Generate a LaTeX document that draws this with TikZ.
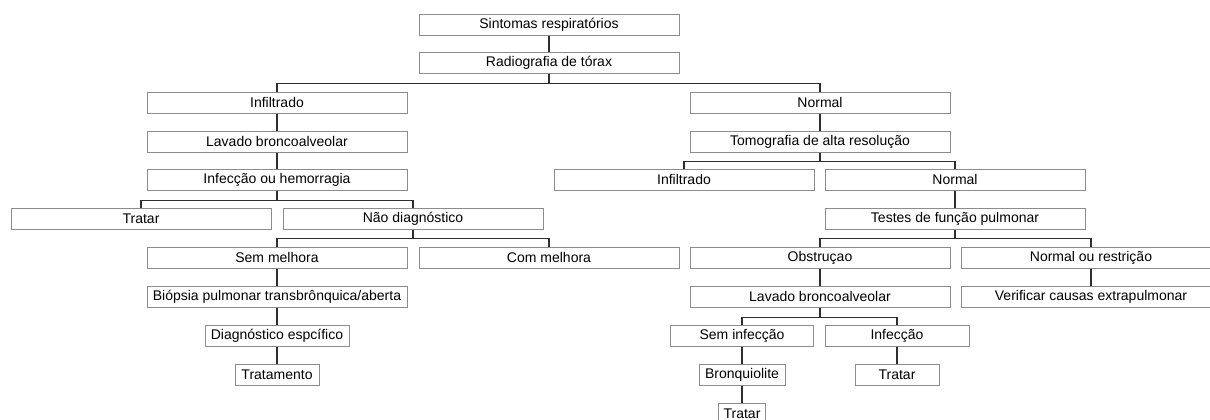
\documentclass[tikz,border=0pt]{standalone}
\usepackage{fontspec}
\setmainfont{Liberation Sans}
\usepackage{tikz}
\usepackage{xcolor}
\definecolor{CinzaBorda}{HTML}{8C8C8C}
\definecolor{CinzaLinha}{HTML}{2E2E2E}
\tikzset{
Caixa/.style={
 draw=CinzaBorda, 
 line width=0.75pt, 
 minimum width=#1*0.75pt, 
 minimum height=15.75pt, 
 inner sep=0pt, 
 font=\fontsize{10.5}{12}\selectfont
 },
Caixa/.default={260},
Ramo/.style={
 draw=CinzaLinha, 
 line width=1pt
 }
}
\begin{document}
\begin{tikzpicture}[x=0.75pt,y=-0.75pt]
\useasboundingbox (0,0) rectangle (1210,419);
% tronco
\node[Caixa] (sint) at (549,24.5) {Sintomas respiratórios};
\node[Caixa] (radio) at (549,62.5) {Radiografia de tórax};
% lado esquerdo
\node[Caixa] (infA) at (277,102.5) {Infiltrado};
\node[Caixa] (lavA) at (277,141.5) {Lavado broncoalveolar};
\node[Caixa] (infHem) at (277,179.5) {Infecção ou hemorragia};
\node[Caixa] (tratA) at (141,218.5) {Tratar};
\node[Caixa] (naoDiag) at (413,218.5) {Não diagnóstico};
\node[Caixa] (semMel) at (277,257.5) {Sem melhora};
\node[Caixa] (comMel) at (549,257.5) {Com melhora};
\node[Caixa] (biop) at (277,296.5) {Biópsia pulmonar transbrônquica/aberta};
\node[Caixa=144] (diagEsp) at (277,335.5) {Diagnóstico espcífico};
\node[Caixa=84] (tratam) at (277,374.5) {Tratamento};
% lado direito
\node[Caixa] (normA) at (820,102.5) {Normal};
\node[Caixa] (tomo) at (820,141.5) {Tomografia de alta resolução};
\node[Caixa] (infB) at (684,179.5) {Infiltrado};
\node[Caixa] (normB) at (955,179.5) {Normal};
\node[Caixa] (testes) at (955,218.5) {Testes de função pulmonar};
\node[Caixa] (obst) at (820,257.5) {Obstruçao};
\node[Caixa] (normRes) at (1091,257.5) {Normal ou restrição};
\node[Caixa] (lavB) at (820,296.5) {Lavado broncoalveolar};
\node[Caixa] (verif) at (1091,296.5) {Verificar causas extrapulmonar};
\node[Caixa=143] (semInf) at (742,335.5) {Sem infecção};
\node[Caixa=144] (infec) at (897,335.5) {Infecção};
\node[Caixa=86] (bronq) at (742,374.5) {Bronquiolite};
\node[Caixa=84] (tratB) at (897,374.5) {Tratar};
\node[Caixa=47] (tratC) at (742,413.5) {Tratar};
% ligacoes
\draw[Ramo] (sint.south) -- (radio.north);
\draw[Ramo] (radio.south) -- ++(0,10) -| (infA.north);
\draw[Ramo] (radio.south) -- ++(0,10) -| (normA.north);
\draw[Ramo] (infA.south) -- (lavA.north);
\draw[Ramo] (lavA.south) -- (infHem.north);
\draw[Ramo] (infHem.south) -- ++(0,10) -| (tratA.north);
\draw[Ramo] (infHem.south) -- ++(0,10) -| (naoDiag.north);
\draw[Ramo] (naoDiag.south) -- ++(0,9) -| (semMel.north);
\draw[Ramo] (naoDiag.south) -- ++(0,9) -| (comMel.north);
\draw[Ramo] (semMel.south) -- (biop.north);
\draw[Ramo] (biop.south) -- (diagEsp.north);
\draw[Ramo] (diagEsp.south) -- (tratam.north);
\draw[Ramo] (normA.south) -- (tomo.north);
\draw[Ramo] (tomo.south) -- ++(0,9) -| (infB.north);
\draw[Ramo] (tomo.south) -- ++(0,9) -| (normB.north);
\draw[Ramo] (normB.south) -- (testes.north);
\draw[Ramo] (testes.south) -- ++(0,9) -| (obst.north);
\draw[Ramo] (testes.south) -- ++(0,9) -| (normRes.north);
\draw[Ramo] (obst.south) -- (lavB.north);
\draw[Ramo] (normRes.south) -- (verif.north);
\draw[Ramo] (lavB.south) -- ++(0,10) -| (semInf.north);
\draw[Ramo] (lavB.south) -- ++(0,10) -| (infec.north);
\draw[Ramo] (semInf.south) -- (bronq.north);
\draw[Ramo] (infec.south) -- (tratB.north);
\draw[Ramo] (bronq.south) -- (tratC.north);
\end{tikzpicture}
\end{document}
